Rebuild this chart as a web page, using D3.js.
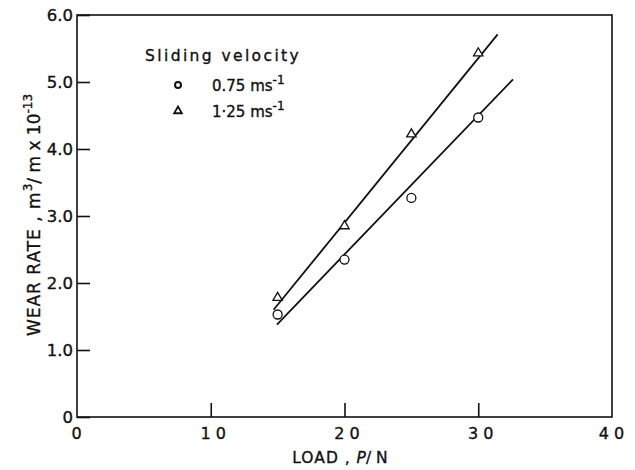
<!DOCTYPE html>
<html>
<head>
<meta charset="utf-8">
<script src="https://cdn.jsdelivr.net/npm/d3@7"></script>
<style>
  body { margin: 0; background: #fff; }
  text { font-family: 'DejaVu Sans', sans-serif; fill: #111; stroke: #111; stroke-width: 0.35px; }
</style>
</head>
<body>
<div id="chart"></div>
<script>
// values
const loads = [15, 20, 25, 30];
const rateSlow = [1.53, 2.35, 3.27, 4.47];   // 0.75 m/s, circles
const rateFast = [1.78, 2.85, 4.22, 5.43];   // 1.25 m/s, triangles
// fitted lines, end points [load, rate]
const fitSlow = [[14.95, 1.38], [32.6, 5.04]];
const fitFast = [[14.7, 1.6], [31.45, 5.71]];
const xTicks = [0, 10, 20, 30, 40];
const yTicks = [0, 1, 2, 3, 4, 5, 6];

const width = 635;
const height = 470;
const margin = { top: 15, right: 23, bottom: 53, left: 77 };

const svg = d3.select('#chart')
  .append('svg')
  .attr('width', width)
  .attr('height', height);

const x = d3.scaleLinear().domain([0, 40]).range([margin.left, width - margin.right]);
const y = d3.scaleLinear().domain([0, 6]).range([height - margin.bottom, margin.top]);

// frame
svg.append('rect')
  .attr('x', x(0))
  .attr('y', y(6))
  .attr('width', x(40) - x(0))
  .attr('height', y(0) - y(6))
  .attr('fill', 'none')
  .attr('stroke', '#111')
  .attr('stroke-width', 1.6);

// y axis, ticks pointing inward
const yAxis = svg.append('g')
  .attr('transform', `translate(${x(0)},0)`)
  .call(d3.axisRight(y).tickValues(yTicks).tickSize(13).tickFormat(() => ''));
yAxis.select('.domain').remove();
yAxis.selectAll('line').attr('stroke', '#111').attr('stroke-width', 1.6);

svg.append('g')
  .selectAll('text')
  .data(yTicks)
  .enter()
  .append('text')
  .attr('x', x(0) - 4)
  .attr('y', (d) => y(d))
  .attr('dy', '0.36em')
  .attr('text-anchor', 'end')
  .attr('font-size', 16.5)
  .text((d) => (d === 0 ? '0' : d3.format('.1f')(d)));

// x axis, ticks pointing up
const xAxis = svg.append('g')
  .attr('transform', `translate(0,${y(0)})`)
  .call(d3.axisTop(x).tickValues([10, 20, 30]).tickSize(14).tickFormat(() => ''));
xAxis.select('.domain').remove();
xAxis.selectAll('line').attr('stroke', '#111').attr('stroke-width', 1.6);

svg.append('g')
  .selectAll('text')
  .data(xTicks)
  .enter()
  .append('text')
  .attr('x', (d) => x(d) + (d === 0 || d === 40 ? 2 : 5))
  .attr('y', y(0) + 22)
  .attr('text-anchor', 'middle')
  .attr('font-size', 16)
  .attr('letter-spacing', 5)
  .text((d) => String(d));

// axis titles
const xt = svg.append('text')
  .attr('x', 340)
  .attr('y', 463)
  .attr('text-anchor', 'middle')
  .attr('font-size', 15.5);
xt.append('tspan').attr('letter-spacing', 1).text('LOAD , ');
xt.append('tspan').attr('font-style', 'italic').text('P');
xt.append('tspan').text('/ N');

const yt = svg.append('text')
  .attr('transform', 'translate(40,215) rotate(-90)')
  .attr('text-anchor', 'middle')
  .attr('font-size', 17);
yt.append('tspan').attr('letter-spacing', 1).text('WEAR RATE , m');
yt.append('tspan').attr('dy', -8).attr('font-size', 12).text('3');
yt.append('tspan').attr('dy', 8).text('/ m x 10');
yt.append('tspan').attr('dy', -8).attr('font-size', 12).text('-13');

// fitted lines
const line = d3.line().x((d) => x(d[0])).y((d) => y(d[1]));
[fitSlow, fitFast].forEach((f) => {
  svg.append('path')
    .attr('d', line(f))
    .attr('fill', 'none')
    .attr('stroke', '#111')
    .attr('stroke-width', 1.8);
});

// markers
svg.append('g')
  .selectAll('circle')
  .data(loads)
  .enter()
  .append('circle')
  .attr('cx', (d) => x(d))
  .attr('cy', (d, i) => y(rateSlow[i]))
  .attr('r', 4.5)
  .attr('fill', '#fff')
  .attr('stroke', '#111')
  .attr('stroke-width', 1.3);

const tri = d3.symbol().type(d3.symbolTriangle).size(38);
svg.append('g')
  .selectAll('path')
  .data(loads)
  .enter()
  .append('path')
  .attr('d', tri)
  .attr('transform', (d, i) => `translate(${x(d)},${y(rateFast[i])})`)
  .attr('fill', '#fff')
  .attr('stroke', '#111')
  .attr('stroke-width', 1.3);

// legend
svg.append('text')
  .attr('x', 145)
  .attr('y', 61)
  .attr('font-size', 15.5)
  .attr('letter-spacing', 2.4)
  .text('Sliding velocity');

const legend = [
  { sym: 'circle', label: '0.75 ms', y: 85 },
  { sym: 'triangle', label: '1·25 ms', y: 111 },
];
legend.forEach((l) => {
  if (l.sym === 'circle') {
    svg.append('circle')
      .attr('cx', 178).attr('cy', l.y).attr('r', 3)
      .attr('fill', 'none').attr('stroke', '#111').attr('stroke-width', 2);
  }
  else {
    svg.append('path')
      .attr('d', d3.symbol().type(d3.symbolTriangle).size(26)())
      .attr('transform', `translate(178,${l.y})`)
      .attr('fill', 'none').attr('stroke', '#111').attr('stroke-width', 1.8);
  }
  const t = svg.append('text')
    .attr('x', 212)
    .attr('y', l.y + 6)
    .attr('font-size', 15);
  t.append('tspan').text(l.label);
  t.append('tspan').attr('dy', -7).attr('font-size', 12).text('-1');
});
</script>
</body>
</html>
